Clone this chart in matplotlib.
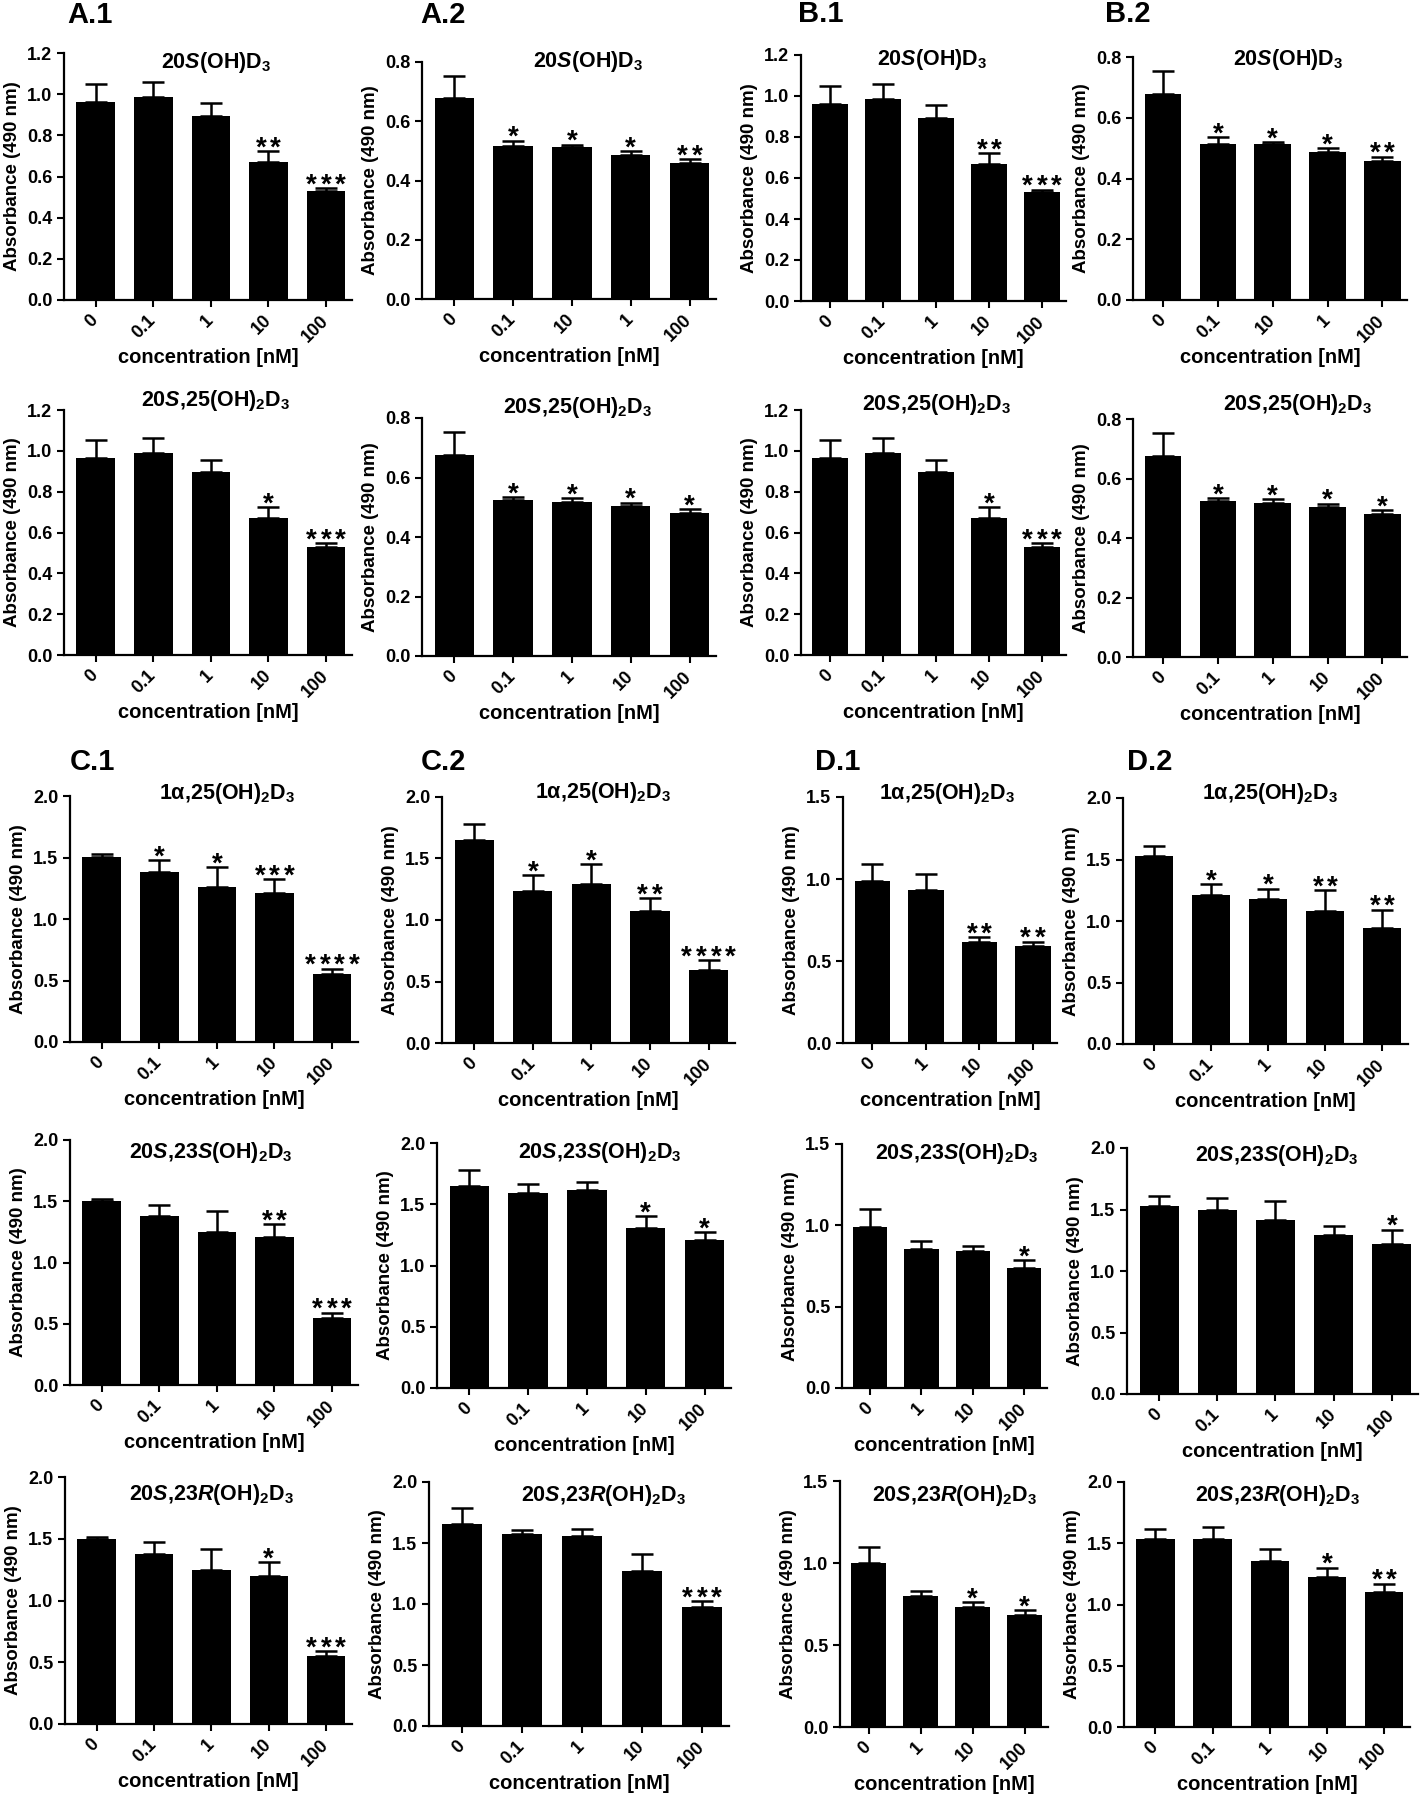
import numpy as np
import matplotlib
matplotlib.use('Agg')
import matplotlib.pyplot as plt
from matplotlib.ticker import FormatStrFormatter

plt.rcParams['font.family'] = ['Liberation Sans', 'DejaVu Sans']
plt.rcParams['font.weight'] = 'bold'
plt.rcParams['mathtext.fontset'] = 'custom'
plt.rcParams['mathtext.rm'] = 'Liberation Sans:bold'
plt.rcParams['mathtext.it'] = 'Liberation Sans:italic:bold'
plt.rcParams['mathtext.bf'] = 'Liberation Sans:bold'
plt.rcParams['mathtext.default'] = 'regular'

W, H = 1421, 1800

# x tick labels
conc5 = ['0', '0.1', '1', '10', '100']
conc5_swap = ['0', '0.1', '10', '1', '100']
conc4 = ['0', '1', '10', '100']

# compound titles
t_20s = r'20$\mathit{S}$(OH)D$_3$'
t_20s25 = r'20$\mathit{S}$,25(OH)$_2$D$_3$'
t_1a25 = r'1α,25(OH)$_2$D$_3$'
t_23s = r'20$\mathit{S}$,23$\mathit{S}$(OH)$_2$D$_3$'
t_23r = r'20$\mathit{S}$,23$\mathit{R}$(OH)$_2$D$_3$'

# A / B : 20S(OH)D3 and 20S,25(OH)2D3
a1_20s_mean = [0.96, 0.985, 0.895, 0.67, 0.53]
a1_20s_err = [0.09, 0.075, 0.06, 0.052, 0.013]
a1_20s_sig = ['', '', '', '**', '***']

a2_20s_mean = [0.678, 0.515, 0.512, 0.486, 0.458]
a2_20s_err = [0.076, 0.02, 0.008, 0.013, 0.014]
a2_20s_sig = ['', '*', '*', '*', '**']

a1_25_mean = [0.966, 0.988, 0.897, 0.673, 0.531]
a1_25_err = [0.087, 0.073, 0.06, 0.052, 0.016]
a1_25_sig = ['', '', '', '*', '***']

a2_25_mean = [0.676, 0.525, 0.519, 0.504, 0.482]
a2_25_err = [0.077, 0.009, 0.011, 0.011, 0.011]
a2_25_sig = ['', '*', '*', '*', '*']

# C / D : 1a,25(OH)2D3
c1_1a_mean = [1.506, 1.381, 1.259, 1.213, 0.551]
c1_1a_err = [0.02, 0.098, 0.16, 0.109, 0.043]
c1_1a_sig = ['', '*', '*', '***', '****']

c2_1a_mean = [1.653, 1.233, 1.295, 1.076, 0.596]
c2_1a_err = [0.13, 0.13, 0.16, 0.103, 0.076]
c2_1a_sig = ['', '*', '*', '**', '****']

d1_1a_mean = [0.989, 0.932, 0.614, 0.592]
d1_1a_err = [0.10, 0.10, 0.03, 0.026]
d1_1a_sig = ['', '', '**', '**']

d2_1a_mean = [1.525, 1.208, 1.18, 1.085, 0.942]
d2_1a_err = [0.087, 0.092, 0.081, 0.163, 0.149]
d2_1a_sig = ['', '*', '*', '**', '**']

# C / D : 20S,23S(OH)2D3
c1_23s_mean = [1.505, 1.38, 1.249, 1.205, 0.547]
c1_23s_err = [0.014, 0.09, 0.174, 0.107, 0.044]
c1_23s_sig = ['', '', '', '**', '***']

c2_23s_mean = [1.652, 1.595, 1.614, 1.303, 1.205]
c2_23s_err = [0.125, 0.068, 0.065, 0.098, 0.066]
c2_23s_sig = ['', '', '', '*', '*']

d1_23s_mean = [0.992, 0.857, 0.845, 0.737]
d1_23s_err = [0.107, 0.049, 0.029, 0.047]
d1_23s_sig = ['', '', '', '*']

d2_23s_mean = [1.525, 1.495, 1.417, 1.289, 1.218]
d2_23s_err = [0.087, 0.098, 0.149, 0.073, 0.117]
d2_23s_sig = ['', '', '', '', '*']

# C / D : 20S,23R(OH)2D3
c1_23r_mean = [1.50, 1.377, 1.247, 1.20, 0.549]
c1_23r_err = [0.015, 0.093, 0.167, 0.11, 0.04]
c1_23r_sig = ['', '', '', '*', '***']

c2_23r_mean = [1.653, 1.577, 1.559, 1.268, 0.977]
c2_23r_err = [0.13, 0.03, 0.056, 0.14, 0.047]
c2_23r_sig = ['', '', '', '', '***']

d1_23r_mean = [0.998, 0.796, 0.733, 0.684]
d1_23r_err = [0.098, 0.035, 0.028, 0.028]
d1_23r_sig = ['', '', '*', '*']

d2_23r_mean = [1.533, 1.533, 1.355, 1.224, 1.103]
d2_23r_err = [0.084, 0.1, 0.094, 0.075, 0.065]
d2_23r_sig = ['', '', '', '*', '**']

# (labels, mean, err, sig, ymax, ystep, title) + layout in pixels (l, r, top, bottom) + title pos
panels = [
    (conc5, a1_20s_mean, a1_20s_err, a1_20s_sig, 1.2, 0.2, t_20s, (64, 352, 53, 300), (0.53, 0.96)),
    (conc5_swap, a2_20s_mean, a2_20s_err, a2_20s_sig, 0.8, 0.2, t_20s, (422, 716, 62, 299), (0.565, 1.0)),
    (conc5, a1_20s_mean, a1_20s_err, a1_20s_sig, 1.2, 0.2, t_20s, (801, 1066, 55, 301), (0.494, 0.98)),
    (conc5_swap, a2_20s_mean, a2_20s_err, a2_20s_sig, 0.8, 0.2, t_20s, (1133, 1407, 57, 300), (0.566, 0.99)),

    (conc5, a1_25_mean, a1_25_err, a1_25_sig, 1.2, 0.2, t_20s25, (64, 352, 410, 655), (0.525, 1.04)),
    (conc5, a2_25_mean, a2_25_err, a2_25_sig, 0.8, 0.2, t_20s25, (422, 716, 418, 656), (0.53, 1.046)),
    (conc5, a1_25_mean, a1_25_err, a1_25_sig, 1.2, 0.2, t_20s25, (801, 1066, 410, 655), (0.513, 1.024)),
    (conc5, a2_25_mean, a2_25_err, a2_25_sig, 0.8, 0.2, t_20s25, (1133, 1407, 419, 657), (0.60, 1.06)),

    (conc5, c1_1a_mean, c1_1a_err, c1_1a_sig, 2.0, 0.5, t_1a25, (70, 358, 796, 1042), (0.545, 1.012)),
    (conc5, c2_1a_mean, c2_1a_err, c2_1a_sig, 2.0, 0.5, t_1a25, (442, 735, 797, 1043), (0.55, 1.02)),
    (conc4, d1_1a_mean, d1_1a_err, d1_1a_sig, 1.5, 0.5, t_1a25, (843, 1057, 797, 1043), (0.486, 1.016)),
    (conc5, d2_1a_mean, d2_1a_err, d2_1a_sig, 2.0, 0.5, t_1a25, (1123, 1408, 798, 1044), (0.516, 1.02)),

    (conc5, c1_23s_mean, c1_23s_err, c1_23s_sig, 2.0, 0.5, t_23s, (70, 358, 1140, 1385), (0.49, 0.947)),
    (conc5, c2_23s_mean, c2_23s_err, c2_23s_sig, 2.0, 0.5, t_23s, (437, 731, 1143, 1388), (0.553, 0.96)),
    (conc4, d1_23s_mean, d1_23s_err, d1_23s_sig, 1.5, 0.5, t_23s, (842, 1047, 1144, 1388), (0.56, 0.963)),
    (conc5, d2_23s_mean, d2_23s_err, d2_23s_sig, 2.0, 0.5, t_23s, (1127, 1418, 1148, 1394), (0.515, 0.97)),

    (conc5, c1_23r_mean, c1_23r_err, c1_23r_sig, 2.0, 0.5, t_23r, (65, 352, 1477, 1724), (0.51, 0.931)),
    (conc5, c2_23r_mean, c2_23r_err, c2_23r_sig, 2.0, 0.5, t_23r, (429, 729, 1482, 1726), (0.58, 0.943)),
    (conc4, d1_23r_mean, d1_23r_err, d1_23r_sig, 1.5, 0.5, t_23r, (840, 1048, 1481, 1727), (0.55, 0.94)),
    (conc5, d2_23r_mean, d2_23r_err, d2_23r_sig, 2.0, 0.5, t_23r, (1124, 1410, 1482, 1727), (0.535, 0.943)),
]

panel_labels = [('A.1', 90, 15), ('A.2', 443, 15), ('B.1', 821, 14), ('B.2', 1128, 14),
                ('C.1', 92, 762), ('C.2', 443, 762), ('D.1', 838, 762), ('D.2', 1150, 762)]


def draw(ax, labels, mean, err, sig, ymax, ystep, title, tpos):
    x = np.arange(len(mean))
    ax.bar(x, mean, width=0.67, color='black', zorder=2)
    ax.errorbar(x, mean, yerr=[np.zeros(len(err)), err], fmt='none', ecolor='black',
                elinewidth=1.8, capsize=8, capthick=1.8, zorder=1)
    for i, s in enumerate(sig):
        for k, ch in enumerate(s):
            ax.annotate(ch, (x[i], mean[i] + err[i]),
                        xytext=((k - (len(s) - 1) / 2) * 10.5, -3), textcoords='offset points',
                        ha='center', va='baseline', fontsize=20, fontweight='bold')
    ax.set_xlim(-0.55, len(mean) - 0.55)
    ax.set_ylim(0, ymax)
    ax.set_yticks(np.arange(0, ymax + ystep / 2, ystep))
    ax.yaxis.set_major_formatter(FormatStrFormatter('%.1f'))
    ax.set_xticks(x, labels, rotation=45, ha='right', va='center', rotation_mode='anchor')
    for side in ['top', 'right']:
        ax.spines[side].set_visible(False)
    for side in ['left', 'bottom']:
        ax.spines[side].set_linewidth(1.6)
    ax.tick_params(axis='both', direction='out', length=5, width=1.5, labelsize=13)
    ax.tick_params(axis='x', pad=8)
    ax.set_ylabel('Absorbance (490 nm)', fontsize=13.5, fontweight='bold', labelpad=4)
    ax.set_xlabel('concentration [nM]', fontsize=14.5, fontweight='bold', labelpad=2)
    ax.text(tpos[0], tpos[1], title, transform=ax.transAxes, ha='center', va='center',
            fontsize=15.5, fontweight='bold')


fig = plt.figure(figsize=(W / 100, H / 100), dpi=100)

for labels, mean, err, sig, ymax, ystep, title, rect, tpos in panels:
    l, r, top, bottom = rect
    ax = fig.add_axes([l / W, 1 - bottom / H, (r - l) / W, (bottom - top) / H])
    draw(ax, labels, mean, err, sig, ymax, ystep, title, tpos)

for lab, px, py in panel_labels:
    fig.text(px / W, 1 - py / H, lab, ha='center', va='center', fontsize=21, fontweight='bold')

fig.savefig('out.png', dpi=100)
